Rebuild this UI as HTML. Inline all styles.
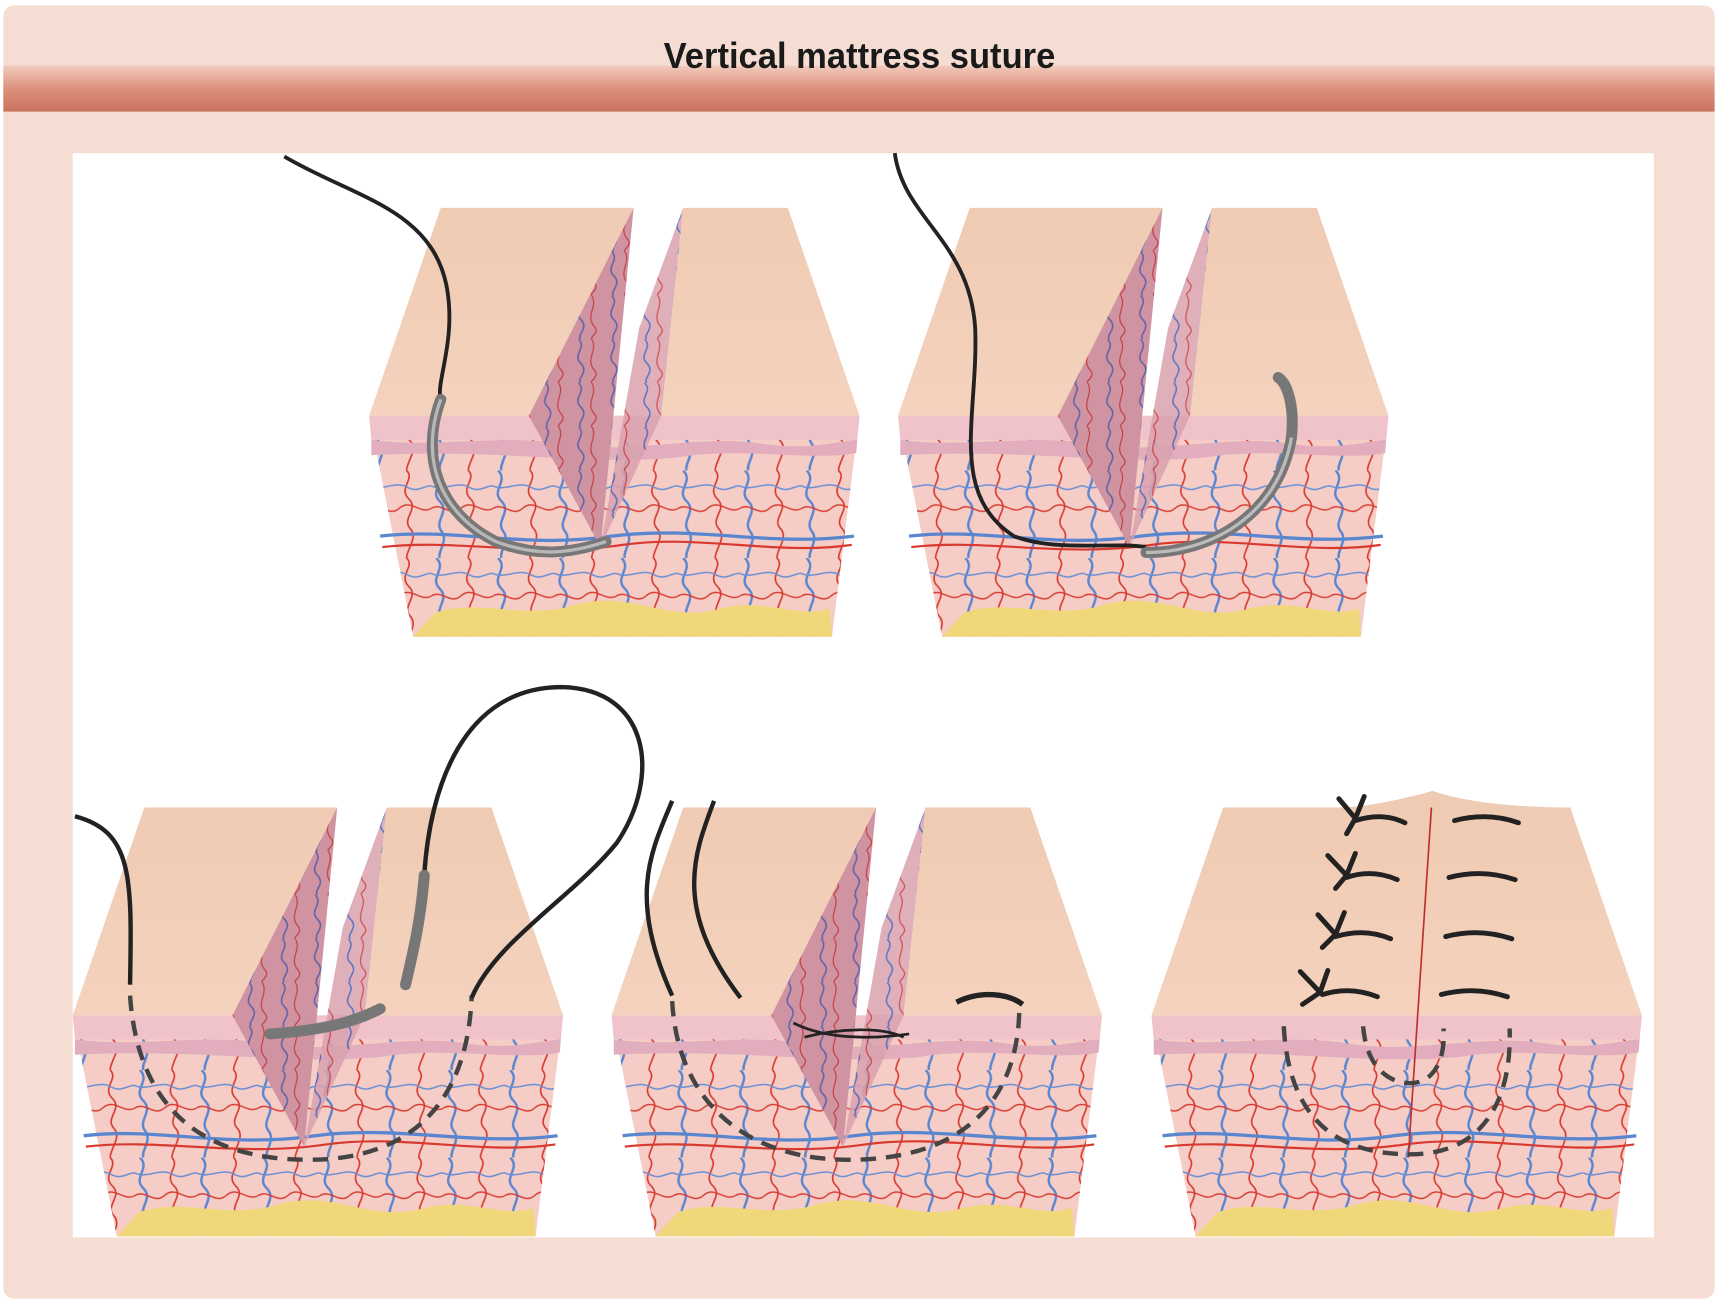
<!DOCTYPE html>
<html><head><meta charset="utf-8"><style>
html,body{margin:0;padding:0;background:#fff;}
svg{display:block}
</style></head><body>
<svg width="1719" height="1302" viewBox="0 0 1560 1190" preserveAspectRatio="none" xmlns="http://www.w3.org/2000/svg">
<defs>
<linearGradient id="band" x1="0" y1="0" x2="0" y2="1">
<stop offset="0" stop-color="#f2cbbd"/><stop offset="0.5" stop-color="#dc907c"/><stop offset="1" stop-color="#c8745f"/>
</linearGradient>
<linearGradient id="topf" x1="0" y1="0" x2="0" y2="1">
<stop offset="0" stop-color="#f0cbb3"/><stop offset="1" stop-color="#f4d2bd"/>
</linearGradient>
<pattern id="ves" width="56" height="80" patternUnits="userSpaceOnUse">
<rect width="56" height="80" fill="#f5cdc6"/>
<path d="M5 0 C15 10 -2 18 8 28 C18 38 2 46 10 56 C16 64 6 74 8 80" stroke="#5a86d0" stroke-width="2.2" fill="none"/>
<path d="M34 0 C42 8 26 16 36 26 C46 36 28 44 38 54 C44 62 34 72 34 80" stroke="#d83a30" stroke-width="1.5" fill="none"/>
<path d="M0 35 C10 28 18 44 28 34 C38 26 46 40 56 35" stroke="#d83a30" stroke-width="1.3" fill="none"/>
<path d="M0 14 C12 20 24 8 36 16 C44 20 50 14 56 14" stroke="#6a8fd4" stroke-width="1.4" fill="none"/>
</pattern>
<pattern id="ves2" width="30" height="40" patternUnits="userSpaceOnUse">
<rect width="30" height="40" fill="#d9a1ae"/>
<path d="M10 0 C18 8 4 14 12 22 C20 30 8 36 12 40" stroke="#3e5fb8" stroke-width="1.4" fill="none"/>
<path d="M22 0 C28 10 16 18 24 28 C30 34 20 38 22 40" stroke="#c8302c" stroke-width="1.1" fill="none"/>
</pattern>
<g id="front">
<polygon points="0,190 445,190 420,392 40,392" fill="url(#ves)"/>
<polygon points="0,190 445,190 443,212 2,212" fill="#efc3c9"/>
<path d="M2,212 C60,220 120,206 180,216 C240,226 300,206 360,216 C400,222 430,212 443,212 L442,224 C400,232 340,218 280,228 C200,236 120,220 2,226 Z" fill="#e2adbd"/>
<path d="M40,392 L60,370 C100,356 140,378 190,362 C240,350 270,380 320,366 C360,356 390,376 418,366 L420,392 Z" fill="#f0d77a"/>
<path d="M10,300 C80,292 140,312 220,300 C300,290 360,310 440,300" stroke="#5a86d0" stroke-width="3" fill="none"/>
<path d="M12,310 C80,302 150,320 230,308 C300,298 370,318 438,308" stroke="#d83a30" stroke-width="2" fill="none"/>
</g>
<g id="cutblock">
<use href="#front"/>
<polygon points="0,190 65,0 240,0 145,190" fill="url(#topf)"/>
<polygon points="285,0 380,0 445,190 265,190" fill="url(#topf)"/>
<polygon points="240,0 145,190 210,310" fill="url(#ves2)"/>
<polygon points="285,0 265,190 210,310 245,110" fill="url(#ves2)" opacity="0.85"/>
<polygon points="240,0 145,190 210,310" fill="#b86a7c" opacity="0.25"/>
</g>
<g id="closedblock">
<use href="#front"/>
<polygon points="0,190 65,0 380,0 445,190" fill="url(#topf)"/>
<line x1="255" y1="-15" x2="233" y2="320" stroke="#c0302a" stroke-width="1.5"/>
<path d="M170,0 Q200,0 255,-15 Q300,0 380,0" fill="#f0cbb3"/>
</g>
</defs>
<rect x="0" y="0" width="1560" height="1190" fill="#fff"/>
<rect x="3" y="5" width="1553" height="1182" rx="10" fill="#f6ddd3"/>
<rect x="3" y="60" width="1553" height="42" fill="url(#band)"/>
<text x="780" y="62" text-anchor="middle" font-family="Liberation Sans, sans-serif" font-weight="bold" font-size="33" fill="#1a1a1a" transform="translate(780 0) scale(0.95 1) translate(-780 0)">Vertical mattress suture</text>
<rect x="66" y="140" width="1435" height="991" fill="#fff"/>

<use href="#cutblock" x="335" y="190"/>
<use href="#cutblock" x="815" y="190"/>
<use href="#cutblock" x="66" y="738"/>
<use href="#cutblock" x="555" y="738"/>
<use href="#closedblock" x="1045" y="738"/>

<path d="M258,143 C320,180 390,190 405,260 C415,310 395,350 400,365" stroke="#222" stroke-width="3.5" fill="none"/>
<path d="M400,365 C380,420 400,470 450,495 C490,510 520,505 550,495" stroke="#777" stroke-width="10" fill="none" stroke-linecap="round"/>
<path d="M400,365 C380,420 400,470 450,495 C490,510 520,505 550,495" stroke="#b8b8b8" stroke-width="3" fill="none"/>
<path d="M812,140 C820,200 880,220 885,300 C888,380 860,450 920,490 C960,505 1010,495 1040,500" stroke="#222" stroke-width="3.5" fill="none"/>
<path d="M1040,505 C1100,505 1160,470 1172,400 C1175,370 1168,350 1160,345" stroke="#777" stroke-width="10" fill="none" stroke-linecap="round"/>
<path d="M1040,505 C1100,505 1160,470 1172,400" stroke="#bbb" stroke-width="3" fill="none"/>
<path d="M68,746 C120,760 120,800 118,900" stroke="#222" stroke-width="4" fill="none"/>
<path d="M118,910 C125,1010 180,1060 280,1060 C380,1060 425,1000 428,910" stroke="#444" stroke-width="4" stroke-dasharray="14,9" fill="none"/>
<path d="M428,912 C450,860 520,820 560,770 C600,710 590,630 510,628 C420,628 390,720 385,800" stroke="#222" stroke-width="4" fill="none"/>
<path d="M385,800 C382,840 375,870 368,900" stroke="#777" stroke-width="10" fill="none" stroke-linecap="round"/>
<path d="M245,945 C290,942 320,935 345,922" stroke="#777" stroke-width="10" fill="none" stroke-linecap="round"/>
<path d="M610,732 C590,780 570,820 610,910" stroke="#222" stroke-width="4" fill="none"/>
<path d="M648,732 C630,780 610,830 672,912" stroke="#222" stroke-width="4" fill="none"/>
<path d="M610,915 C615,1010 680,1060 770,1060 C880,1060 925,1000 925,920" stroke="#444" stroke-width="4" stroke-dasharray="14,9" fill="none"/>
<path d="M868,916 C890,905 915,908 928,918" stroke="#222" stroke-width="5" fill="none"/>
<path d="M720,935 C750,950 790,950 825,945 M730,948 C760,940 800,938 820,948" stroke="#222" stroke-width="2.5" fill="none"/>
<path d="M1165,938 C1170,1030 1220,1055 1280,1055 C1350,1055 1372,1000 1370,940" stroke="#444" stroke-width="4" stroke-dasharray="14,9" fill="none"/>
<path d="M1237,938 C1240,975 1260,990 1280,990 C1300,990 1312,970 1310,940" stroke="#444" stroke-width="4" stroke-dasharray="14,9" fill="none"/>
<g stroke="#222" stroke-width="4.5" fill="none" stroke-linecap="round">
<path d="M1320,750 Q1350,742 1378,752"/><path d="M1315,802 Q1345,794 1375,804"/><path d="M1312,856 Q1342,848 1372,858"/><path d="M1308,909 Q1338,901 1368,911"/>
<path d="M1230,750 Q1255,742 1275,752"/><path d="M1222,802 Q1245,794 1268,804"/><path d="M1212,856 Q1238,848 1262,858"/><path d="M1200,909 Q1225,901 1250,911"/>
<path d="M1230,748 L1215,730 M1230,748 L1238,728 M1230,748 L1222,762"/>
<path d="M1222,800 L1205,782 M1222,800 L1230,780 M1222,800 L1212,812"/>
<path d="M1212,854 L1196,836 M1212,854 L1220,834 M1212,854 L1200,866"/>
<path d="M1198,907 L1180,888 M1198,907 L1205,887 M1198,907 L1182,918"/>
</g>
</svg>
</body></html>
